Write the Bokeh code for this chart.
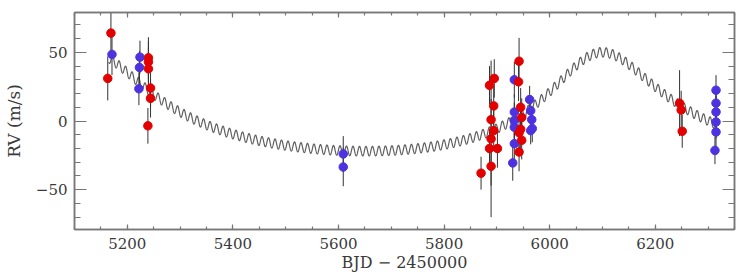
import numpy as np
from bokeh.plotting import figure
from bokeh.models import Range1d, LinearAxis, FixedTicker, ColumnDataSource
from bokeh.embed import file_html
from bokeh.resources import INLINE

# ---- data ----
red_t = [5163, 5169, 5240, 5240, 5240, 5244, 5244, 5239,
         5870, 5886, 5895, 5894, 5889, 5894, 5886, 5901, 5889, 5889,
         5942, 5941, 5945, 5947, 5942, 5942, 5947, 5945,
         6246, 6249, 6251]
red_rv = [31, 64, 46, 43, 38, 24, 16.5, -3.5,
          -38, 26, 31, 11, 1, -7, -20, -20, -33, -13,
          43.5, 28.5, 10, 2.5, -8.5, -22.6, -14, -6,
          13, 8, -7.5]
red_err = [16, 16, 15, 15, 15, 14, 14, 13,
           12, 14, 14, 14, 15, 15, 14, 14, 14, 57,
           17, 14, 14, 14, 14, 14, 14, 14,
           24, 14, 12]

blue_t = [5171, 5224, 5223, 5222,
          5609, 5609,
          5933, 5933, 5933, 5933, 5933, 5930,
          5962, 5964, 5966, 5967, 5964,
          6315, 6315, 6315, 6315, 6315, 6313]
blue_rv = [48.5, 46.5, 39, 23.5,
           -24, -33.5,
           30, 6.5, 0.5, -4.5, -16.5, -30.5,
           15.6, 7.5, 1, -5.5, -7,
           22.4, 13, 6.6, -0.7, -8, -21.4]
blue_err = [15, 12, 12, 12,
            13, 14,
            13, 13, 13, 13, 13, 13,
            10, 10, 10, 10, 10,
            11, 12, 12, 12, 12, 10]

# two-Keplerian model curve parameters
model_P = [968.0, 12.3]
model_K = [36.0, 3.5]
model_e = [0.38, 0.0]
model_w = [352.0, 90.0]
model_Tp = [6091.0, 5200.0]
model_gamma = 0.5
model_t0, model_t1 = 5165, 6316

x_ticks = [5200, 5400, 5600, 5800, 6000, 6200]
x_tick_labels = ["5200", "5400", "5600", "5800", "6000", "6200"]
y_ticks = [-50, 0, 50]
y_tick_labels = ["\u221250", "0", "50"]
x_label = "BJD \u2212 2450000"
y_label = "RV (m/s)"


def kepler_rv(t, P, K, e, w_deg, Tp):
    M = 2 * np.pi * (t - Tp) / P
    E = M.copy()
    for _ in range(50):
        E = E - (E - e * np.sin(E) - M) / (1 - e * np.cos(E))
    nu = 2 * np.arctan2(np.sqrt(1 + e) * np.sin(E / 2), np.sqrt(1 - e) * np.cos(E / 2))
    w = np.radians(w_deg)
    return K * (np.cos(nu + w) + e * np.cos(w))


tm = np.arange(model_t0, model_t1, 0.25)
rvm = np.full_like(tm, model_gamma, dtype=float)
for P, K, e, w, Tp in zip(model_P, model_K, model_e, model_w, model_Tp):
    rvm = rvm + kepler_rv(tm, P, K, e, w, Tp)

X0, X1 = 5100, 6350
Y0, Y1 = -79, 79

p = figure(width=741, height=274, output_backend="svg", toolbar_location=None,
           x_range=Range1d(X0, X1), y_range=Range1d(Y0, Y1),
           x_axis_location=None, y_axis_location=None,
           min_border_left=70, min_border_right=7, min_border_top=12, min_border_bottom=45)
p.grid.visible = False
p.outline_line_color = "#777777"
p.outline_line_width = 1.5
p.background_fill_color = "white"
p.border_fill_color = "white"

AX = "#777777"
TXT = "#3a3a3a"
FONT = "DejaVu Serif"
x_minor = list(range(X0, X1 + 1, 50))
y_minor = list(range(-70, 71, 10))


def make_axis(kind, loc, show_labels):
    if kind == "x":
        tk = FixedTicker(ticks=x_ticks, minor_ticks=x_minor)
        ax = LinearAxis(ticker=tk, major_tick_in=5, minor_tick_in=3)
        ov = dict(zip(x_ticks, x_tick_labels))
    else:
        tk = FixedTicker(ticks=y_ticks, minor_ticks=y_minor)
        ax = LinearAxis(ticker=tk, major_tick_in=12, minor_tick_in=6)
        ov = dict(zip(y_ticks, y_tick_labels))
    ax.major_tick_out = 0
    ax.minor_tick_out = 0
    ax.axis_line_color = AX
    ax.axis_line_width = 1.5
    ax.major_tick_line_color = AX
    ax.minor_tick_line_color = AX
    ax.major_tick_line_width = 1.2
    ax.minor_tick_line_width = 1.2
    if show_labels:
        ax.major_label_overrides = ov
        ax.major_label_text_font = FONT
        ax.major_label_text_font_size = "15px"
        ax.major_label_text_color = TXT
        ax.axis_label_text_font = FONT
        ax.axis_label_text_font_style = "normal"
        ax.axis_label_text_color = TXT
        if kind == "y":
            ax.major_label_standoff = 7
            ax.axis_label = y_label
            ax.axis_label_text_font_size = "17px"
            ax.axis_label_standoff = 9
        else:
            ax.major_label_standoff = 8
            ax.axis_label = x_label
            ax.axis_label_text_font_size = "16px"
            ax.axis_label_standoff = 1
    else:
        ax.major_label_overrides = {t: "" for t in ov}
        ax.major_label_text_font_size = "1px"
        ax.major_label_standoff = 0
    p.add_layout(ax, loc)


make_axis("x", "below", True)
make_axis("x", "above", False)
make_axis("y", "left", True)
make_axis("y", "right", False)

# model curve
p.line(tm, rvm, line_color="#606060", line_width=1.2)

# error bars and points
rsrc = ColumnDataSource(dict(t=red_t, rv=red_rv,
                             lo=[v - e for v, e in zip(red_rv, red_err)],
                             hi=[v + e for v, e in zip(red_rv, red_err)]))
bsrc = ColumnDataSource(dict(t=blue_t, rv=blue_rv,
                             lo=[v - e for v, e in zip(blue_rv, blue_err)],
                             hi=[v + e for v, e in zip(blue_rv, blue_err)]))
for s in (rsrc, bsrc):
    p.segment(x0="t", y0="lo", x1="t", y1="hi", source=s, line_color="#333333", line_width=1.0)
p.scatter(x="t", y="rv", source=bsrc, size=8.5, fill_color="#4d32e0", line_color="#4d32e0")
p.scatter(x="t", y="rv", source=rsrc, size=8.5, fill_color="#e20000", line_color="#e20000")

open("out.html", "w").write(file_html(p, INLINE))
